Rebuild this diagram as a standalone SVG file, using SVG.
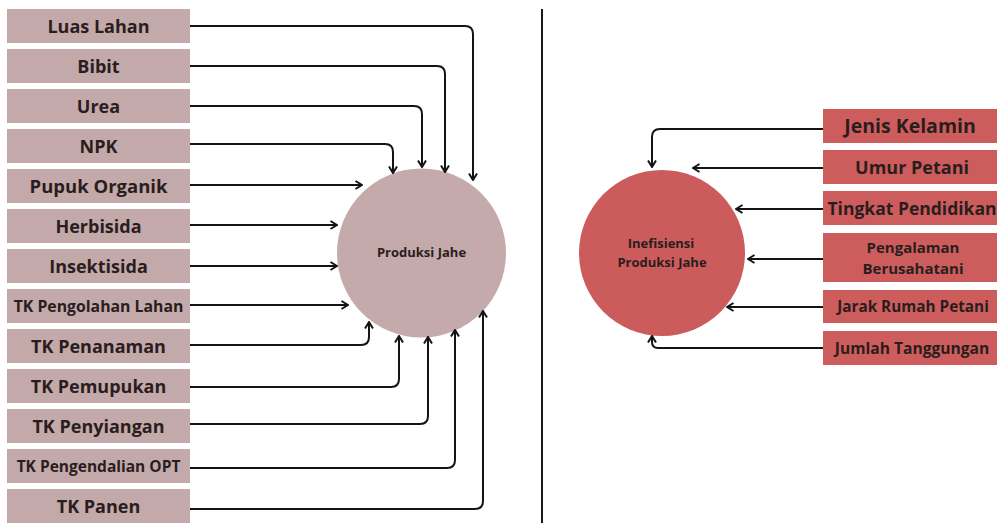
<svg xmlns="http://www.w3.org/2000/svg" width="997" height="523" viewBox="0 0 997 523">
<style>
.lb{fill:#c4a9aa}
.rb{fill:#cd5d5c}
.t{font-family:"Open Sans","Noto Sans","Liberation Sans",sans-serif;font-weight:700;fill:#2a1d1e;text-anchor:middle}
.c{fill:none;stroke:#141414;stroke-width:2}
</style>
<defs>
<marker id="ah" viewBox="0 0 10 10" refX="9" refY="5" markerWidth="10" markerHeight="10" markerUnits="userSpaceOnUse" orient="auto">
<path d="M2.5,1 L9,5 L2.5,9" fill="none" stroke="#141414" stroke-width="2"/>
</marker>
</defs>
<rect width="997" height="523" fill="#ffffff"/>
<line x1="542" y1="9" x2="542" y2="523" stroke="#1a1a1a" stroke-width="2"/>

<g id="n-luas"><rect class="lb" x="7" y="9" width="183" height="34"/><text class="t" x="98.5" y="32.5" font-size="18">Luas Lahan</text></g>
<g id="n-bibit"><rect class="lb" x="7" y="49" width="183" height="34"/><text class="t" x="98.5" y="72.5" font-size="18">Bibit</text></g>
<g id="n-urea"><rect class="lb" x="7" y="89" width="183" height="34"/><text class="t" x="98.5" y="112.5" font-size="18">Urea</text></g>
<g id="n-npk"><rect class="lb" x="7" y="129" width="183" height="34"/><text class="t" x="98.5" y="152.5" font-size="18">NPK</text></g>
<g id="n-pupuk"><rect class="lb" x="7" y="169" width="183" height="34"/><text class="t" x="98.5" y="192.5" font-size="18.5">Pupuk Organik</text></g>
<g id="n-herbisida"><rect class="lb" x="7" y="209" width="183" height="34"/><text class="t" x="98.5" y="232.5" font-size="18">Herbisida</text></g>
<g id="n-insektisida"><rect class="lb" x="7" y="249" width="183" height="34"/><text class="t" x="98.5" y="272.5" font-size="18">Insektisida</text></g>
<g id="n-tkolah"><rect class="lb" x="7" y="289" width="183" height="34"/><text class="t" x="98.5" y="311.5" font-size="15.8">TK Pengolahan Lahan</text></g>
<g id="n-tktanam"><rect class="lb" x="7" y="329" width="183" height="34"/><text class="t" x="98.5" y="352.5" font-size="18">TK Penanaman</text></g>
<g id="n-tkpupuk"><rect class="lb" x="7" y="369" width="183" height="34"/><text class="t" x="98.5" y="392.5" font-size="18">TK Pemupukan</text></g>
<g id="n-tksiang"><rect class="lb" x="7" y="409" width="183" height="34"/><text class="t" x="98.5" y="432.5" font-size="18">TK Penyiangan</text></g>
<g id="n-tkopt"><rect class="lb" x="7" y="449" width="183" height="34"/><text class="t" x="98.5" y="471.5" font-size="15.5">TK Pengendalian OPT</text></g>
<g id="n-tkpanen"><rect class="lb" x="7" y="489" width="183" height="34"/><text class="t" x="98.5" y="512.5" font-size="18">TK Panen</text></g>

<g id="n-produksi"><circle cx="421.5" cy="253" r="84.5" fill="#c5aaab"/><text class="t" x="421.5" y="257" font-size="13">Produksi Jahe</text></g>

<g id="n-jenis"><rect class="rb" x="823" y="109" width="174" height="34"/><text class="t" x="910" y="133" font-size="19.5">Jenis Kelamin</text></g>
<g id="n-umur"><rect class="rb" x="823" y="150" width="174" height="34"/><text class="t" x="912" y="173.5" font-size="18">Umur Petani</text></g>
<g id="n-tingkat"><rect class="rb" x="823" y="191" width="174" height="34"/><text class="t" x="912" y="214.5" font-size="17.5">Tingkat Pendidikan</text></g>
<g id="n-pengalaman"><rect class="rb" x="823" y="233" width="174" height="49"/><text class="t" x="913" y="253" font-size="15">Pengalaman</text><text class="t" x="913" y="274" font-size="15">Berusahatani</text></g>
<g id="n-jarak"><rect class="rb" x="823" y="290" width="174" height="33"/><text class="t" x="913" y="312" font-size="15.3">Jarak Rumah Petani</text></g>
<g id="n-jumlah"><rect class="rb" x="823" y="331" width="174" height="34"/><text class="t" x="912" y="354" font-size="15.6">Jumlah Tanggungan</text></g>

<g id="n-inefisiensi"><circle cx="662" cy="253" r="83" fill="#cc5c5c"/><text class="t" x="661" y="248" font-size="13">Inefisiensi</text><text class="t" x="662" y="267" font-size="13">Produksi Jahe</text></g>

<g id="connectors">
<path class="c" marker-end="url(#ah)" d="M190,26 H465 Q473,26 473,34 V180"/>
<path class="c" marker-end="url(#ah)" d="M190,66 H437 Q445,66 445,74 V172"/>
<path class="c" marker-end="url(#ah)" d="M190,106 H414 Q422,106 422,114 V167"/>
<path class="c" marker-end="url(#ah)" d="M190,144 H385 Q393,144 393,152 V173"/>
<path class="c" marker-end="url(#ah)" d="M190,185 H362"/>
<path class="c" marker-end="url(#ah)" d="M190,225 H337"/>
<path class="c" marker-end="url(#ah)" d="M190,266 H337"/>
<path class="c" marker-end="url(#ah)" d="M190,305 H348"/>
<path class="c" marker-end="url(#ah)" d="M190,345 H361 Q369,345 369,337 V322"/>
<path class="c" marker-end="url(#ah)" d="M190,387 H391 Q399,387 399,379 V336"/>
<path class="c" marker-end="url(#ah)" d="M190,424 H420 Q428,424 428,416 V337"/>
<path class="c" marker-end="url(#ah)" d="M190,468 H447 Q455,468 455,460 V330"/>
<path class="c" marker-end="url(#ah)" d="M190,509 H475 Q483,509 483,501 V311"/>
<path class="c" marker-end="url(#ah)" d="M823,129 H660 Q652,129 652,137 V167"/>
<path class="c" marker-end="url(#ah)" d="M823,168 H693"/>
<path class="c" marker-end="url(#ah)" d="M823,209 H736"/>
<path class="c" marker-end="url(#ah)" d="M823,259 H748"/>
<path class="c" marker-end="url(#ah)" d="M823,307 H727"/>
<path class="c" marker-end="url(#ah)" d="M823,348 H658 Q652,348 652,342 V336"/>
</g>
</svg>
